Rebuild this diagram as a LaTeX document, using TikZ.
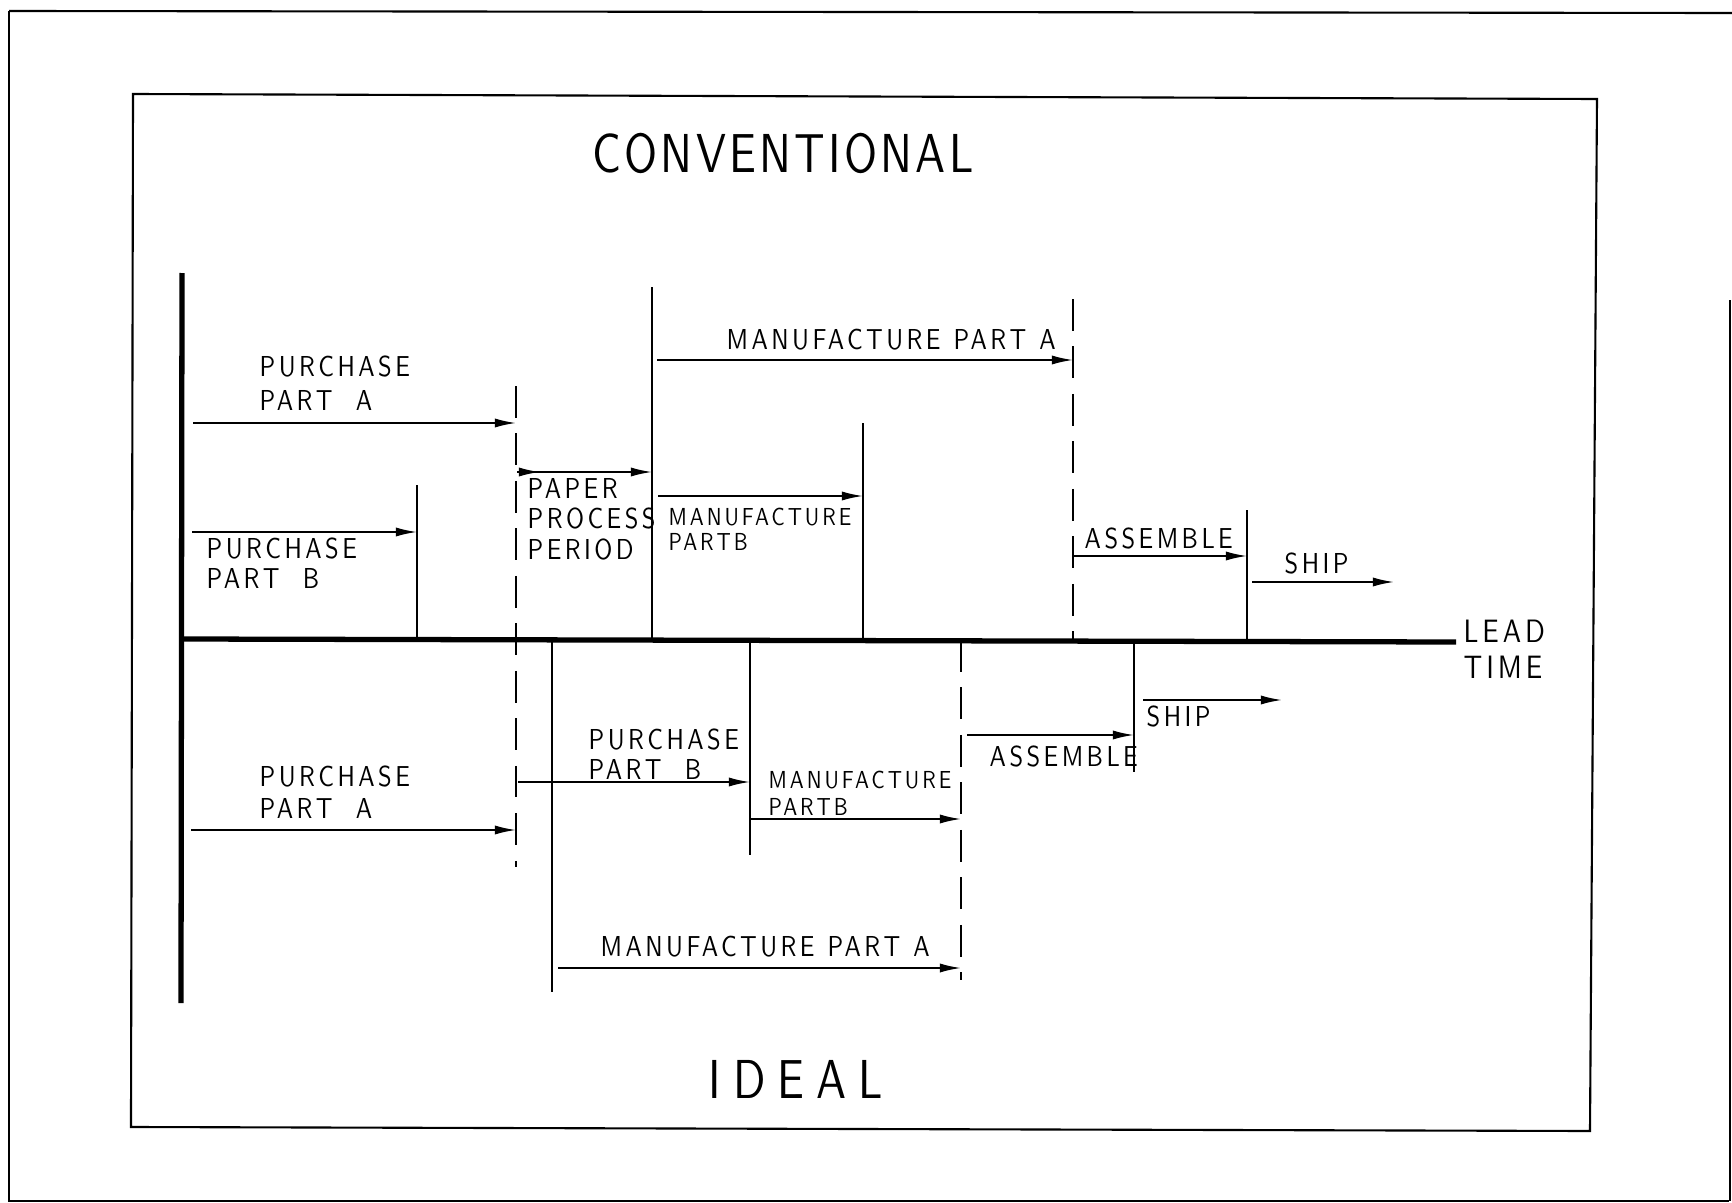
\documentclass[tikz,border=0pt]{standalone}
\usepackage{fontspec}
\usetikzlibrary{arrows.meta}
\newfontfamily\cadfont[FakeStretch=0.85,LetterSpace=12]{lmsans10-regular.otf}
\newfontfamily\cadtitle[FakeStretch=0.82,LetterSpace=6]{lmsans10-regular.otf}
\newfontfamily\cadideal[FakeStretch=0.82,LetterSpace=22]{lmsans10-regular.otf}
\begin{document}
\begin{tikzpicture}[x=0.01cm,y=-0.01cm,
  frameline/.style={line width=0.6pt},
  heavy/.style={line width=1.5pt},
  thin/.style={line width=0.6pt},
  dashline/.style={line width=0.6pt,dash pattern=on 9pt off 4.5pt},
  arr/.style={line width=0.5pt,-{Latex[length=6pt,width=2.6pt]}},
  lbl/.style={anchor=north west,inner sep=0pt,align=left,font={\cadfont\fontsize{8.2}{8.6}\selectfont}},
  lblsm/.style={anchor=north west,inner sep=0pt,align=left,font={\cadfont\fontsize{7}{7.4}\selectfont}},
  ttl/.style={anchor=north,inner sep=0pt}]
\useasboundingbox (0,0) rectangle (1732,1203);
% frames
\draw[frameline] (9,11) -- (1732,13);
\draw[frameline] (9,11) -- (9,1201) -- (1729,1201);
\draw[frameline] (1730,300) -- (1730,1201);
\draw[frameline] (133,94) -- (1597,99) -- (1590,1131) -- (131,1127) -- cycle;
% titles
\node[ttl,font={\cadtitle\fontsize{15.6}{16}\selectfont}] (conv) at (783,133) {CONVENTIONAL};
\node[ttl,font={\cadideal\fontsize{15.6}{16}\selectfont}] (ideal) at (796,1060) {IDEAL};
% axes
\coordinate (vtop) at (182,273);
\coordinate (vbot) at (181,1003);
\coordinate (axstart) at (182,639);
\coordinate (axend) at (1456,642);
\draw[heavy] (vtop) -- (vbot);
\draw[heavy] (axstart) -- (axend);
\node[lbl,font={\cadfont\fontsize{9.2}{10.2}\selectfont}] (lead) at (1463,619) {LEAD\\TIME};
% upper verticals
\coordinate (d1t) at (516,386); \coordinate (d1b) at (516,867);
\coordinate (b1t) at (417,485); \coordinate (b1b) at (417,639);
\coordinate (p1t) at (652,287); \coordinate (p1b) at (652,640);
\coordinate (m1t) at (863,423); \coordinate (m1b) at (863,640);
\coordinate (d2t) at (1073,299); \coordinate (d2b) at (1073,640);
\coordinate (s1t) at (1247,510); \coordinate (s1b) at (1247,641);
\draw[dashline] (d1t) -- (d1b);
\draw[dashline] (d2t) -- (d2b);
\draw[thin] (b1t) -- (b1b);
\draw[thin] (p1t) -- (p1b);
\draw[thin] (m1t) -- (m1b);
\draw[thin] (s1t) -- (s1b);
% lower verticals
\coordinate (l1t) at (552,640); \coordinate (l1b) at (552,992);
\coordinate (l2t) at (750,640); \coordinate (l2b) at (750,855);
\coordinate (d3t) at (961,640); \coordinate (d3b) at (961,980);
\coordinate (l3t) at (1134,641); \coordinate (l3b) at (1134,772);
\draw[thin] (l1t) -- (l1b);
\draw[thin] (l2t) -- (l2b);
\draw[dashline] (d3t) -- (d3b);
\draw[thin] (l3t) -- (l3b);
% upper arrows
\coordinate (ua1s) at (193,423); \coordinate (ua1e) at (516,423);
\coordinate (ub1s) at (192,532); \coordinate (ub1e) at (417,532);
\coordinate (pp1s) at (517,472); \coordinate (pp1m) at (540,472); \coordinate (pp1e) at (652,472);
\coordinate (um1s) at (657,360); \coordinate (um1e) at (1073,360);
\coordinate (umbs) at (658,496); \coordinate (umbe) at (863,496);
\coordinate (uass) at (1073,556); \coordinate (uase) at (1247,556);
\coordinate (uships) at (1252,582); \coordinate (ushipe) at (1394,582);
\draw[arr] (ua1s) -- (ua1e);
\draw[arr] (ub1s) -- (ub1e);
\draw[arr] (pp1s) -- (pp1e);
\draw[arr] (pp1s) -- (pp1m);
\draw[arr] (um1s) -- (um1e);
\draw[arr] (umbs) -- (umbe);
\draw[arr] (uass) -- (uase);
\draw[arr] (uships) -- (ushipe);
% lower arrows
\coordinate (la1s) at (191,830); \coordinate (la1e) at (516,830);
\coordinate (lb1s) at (518,782); \coordinate (lb1e) at (750,782);
\coordinate (lmbs) at (750,819); \coordinate (lmbe) at (961,819);
\coordinate (lmas) at (558,968); \coordinate (lmae) at (961,968);
\coordinate (lass) at (967,735); \coordinate (lase) at (1134,735);
\coordinate (lships) at (1143,700); \coordinate (lshipe) at (1282,700);
\draw[arr] (la1s) -- (la1e);
\draw[arr] (lb1s) -- (lb1e);
\draw[arr] (lmbs) -- (lmbe);
\draw[arr] (lmas) -- (lmae);
\draw[arr] (lass) -- (lase);
\draw[arr] (lships) -- (lshipe);
% upper labels
\node[lbl,font={\cadfont\fontsize{8.2}{9.6}\selectfont}] (upa) at (259,355) {PURCHASE\\PART\ \ A};
\node[lbl] (upb) at (206,537) {PURCHASE\\PART\ \ B};
\node[lbl] (paper) at (527,478) {PAPER\\PROCESS\\PERIOD};
\node[lbl] (umpa) at (726,328) {MANUFACTURE\hspace{0.45em}PART\hspace{0.45em}A};
\node[lblsm,font={\cadfont\fontsize{7}{7.2}\selectfont}] (umpb) at (668,507) {MANUFACTURE\\PARTB};
\node[lbl] (uasm) at (1084,527) {ASSEMBLE};
\node[lbl] (uship) at (1284,552) {SHIP};
% lower labels
\node[lbl,font={\cadfont\fontsize{8.2}{9.1}\selectfont}] (lpa) at (259,765) {PURCHASE\\PART\ \ A};
\node[lbl] (lpb) at (588,728) {PURCHASE\\PART\ \ B};
\node[lblsm,font={\cadfont\fontsize{7}{7.7}\selectfont}] (lmpb) at (768,770) {MANUFACTURE\\PARTB};
\node[lbl] (lmpa) at (600,935) {MANUFACTURE\hspace{0.45em}PART\hspace{0.45em}A};
\node[lbl] (lasm) at (989,745) {ASSEMBLE};
\node[lbl] (lship) at (1146,705) {SHIP};
\end{tikzpicture}
\end{document}
